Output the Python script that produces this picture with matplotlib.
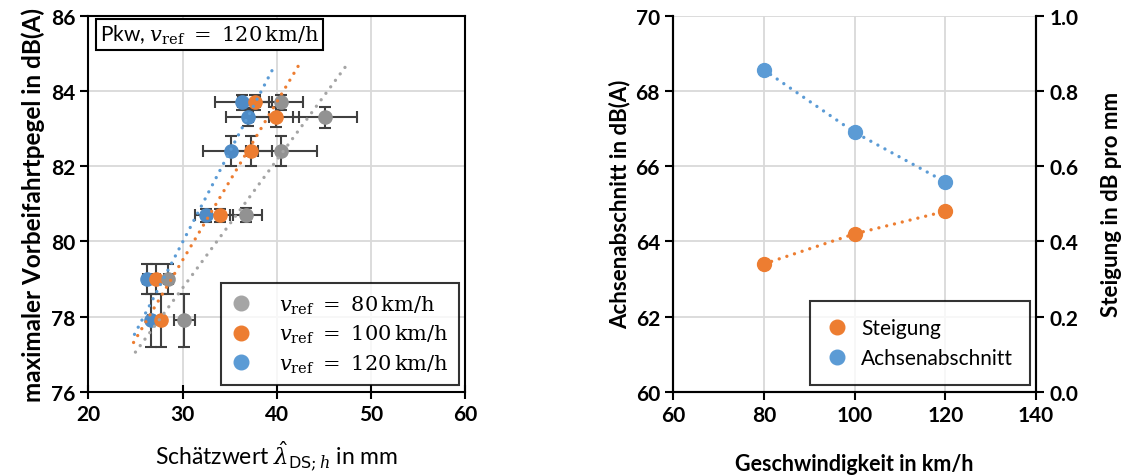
import matplotlib
matplotlib.use("Agg")
import matplotlib.pyplot as plt
from matplotlib.lines import Line2D
import numpy as np

plt.rcParams['font.family'] = ['Lato', 'DejaVu Sans']
plt.rcParams['mathtext.fontset'] = 'dejavuserif'

# ---------------- data: left chart ----------------
levels = [83.7, 83.3, 82.4, 80.7, 79.0, 77.9]          # max. pass-by level dB(A)
x80 = [40.5, 45.1, 40.5, 36.7, 28.5, 30.2]
x100 = [37.65, 39.9, 37.3, 34.0, 27.2, 27.75]
x120 = [36.3, 36.9, 35.1, 32.5, 26.2, 26.65]
xerr80 = [2.3, 3.4, 3.8, 1.7, 0.5, 1.15]
xerr100 = [1.8, 2.45, 2.2, 1.4, 0.4, 0.3]
xerr120 = [2.9, 2.3, 2.9, 1.2, 0.45, 0.3]
yerr80 = [0.2, 0.28, 0.4, 0.18, 0.4, 0.7]
yerr100 = [0.2, 0.27, 0.4, 0.17, 0.4, 0.7]
yerr120 = [0.2, 0.24, 0.4, 0.17, 0.4, 0.7]
trend_x_start = [25.0, 24.8, 24.9]
trend_x_end = [47.5, 42.5, 39.6]
legend_labels = [r'$v_{\mathrm{ref}}\ =\ 80\,\mathrm{km/h}$',
                 r'$v_{\mathrm{ref}}\ =\ 100\,\mathrm{km/h}$',
                 r'$v_{\mathrm{ref}}\ =\ 120\,\mathrm{km/h}$']

# ---------------- data: right chart ----------------
speeds = [80, 100, 120]
intercept = [68.56, 66.90, 65.58]   # Achsenabschnitt dB(A)
slope = [0.34, 0.42, 0.48]          # Steigung dB per mm

c_gray, c_orange, c_blue = '#A5A5A5', '#ED7D31', '#5B9BD5'
c_gray_d, c_blue_d = '#929292', '#4E8BC6'
err_c = '#404040'
grid_c = '#D9D9D9'

fig = plt.figure(figsize=(11.46, 4.77), dpi=100)
ax = fig.add_axes([0.0771, 0.1761, 0.3287, 0.789])

dot = (0, (0.01, 2.4))

series = [
    (x120, xerr120, yerr120, c_blue_d),
    (x100, xerr100, yerr100, c_orange),
    (x80, xerr80, yerr80, c_gray_d),
]
for xs, xe, ye, mc in series:
    ax.errorbar(xs, levels, xerr=xe, yerr=ye, fmt='o', ms=9.5, color=mc,
                mec=mc, ecolor=err_c, elinewidth=1.5, capsize=4, capthick=1.5,
                zorder=3)
for k, lc in zip(range(3), [c_gray, c_orange, c_blue]):
    tx = np.array([trend_x_start[k], trend_x_end[k]])
    ax.plot(tx, intercept[k] + slope[k] * tx, linestyle=dot, lw=2.4,
            color=lc, dash_capstyle='round', zorder=4)

ax.set_xlim(20, 60)
ax.set_ylim(76, 86)
ax.set_xticks([20, 30, 40, 50, 60])
ax.set_yticks([76, 78, 80, 82, 84, 86])
ax.grid(True, color=grid_c, lw=1.3, zorder=0)
ax.set_axisbelow(True)
for s in ax.spines.values():
    s.set_linewidth(1.5)
    s.set_color('black')
ax.tick_params(axis='both', labelsize=15, width=1.5, length=6)
ax.tick_params(axis='x', direction='inout', length=10)
for lab in ax.get_xticklabels() + ax.get_yticklabels():
    lab.set_fontweight('bold')
ax.set_ylabel('maximaler Vorbeifahrtpegel in dB(A)', fontsize=17.5,
              fontweight='bold', labelpad=4)
ax.set_xlabel(r'Schätzwert $\hat{\lambda}_{\mathsf{DS};h}$ in mm', fontsize=16.5,
              labelpad=11)

ax.text(0.03, 0.95, r'Pkw, $v_{\mathrm{ref}}\ =\ 120\,\mathrm{km/h}$',
        transform=ax.transAxes, fontsize=15, va='center', ha='left',
        bbox=dict(boxstyle='square,pad=0.18', fc='white', ec='black', lw=1.5),
        zorder=6)

handles = [Line2D([], [], ls='none', marker='o', ms=10.5, color=c)
           for c in [c_gray, c_orange, c_blue]]
leg = ax.legend(handles, legend_labels, loc='lower right', fontsize=15,
                frameon=True, fancybox=False, edgecolor='black',
                borderpad=0.5, labelspacing=0.35, handletextpad=1.3,
                handlelength=1.0, borderaxespad=0,
                bbox_to_anchor=(0.9835, 0.018))
leg.get_frame().set_linewidth(1.5)
leg.set_zorder(7)

# ---------------- right chart ----------------
ax2 = fig.add_axes([0.5875, 0.1767, 0.3165, 0.788])
ax3 = ax2.twinx()
ax2.plot(speeds, intercept, linestyle=dot, lw=2.4, color=c_blue,
         dash_capstyle='round', zorder=3)
ax2.plot(speeds, intercept, 'o', ms=10, color=c_blue, zorder=4)
ax3.plot(speeds, slope, linestyle=dot, lw=2.4, color=c_orange,
         dash_capstyle='round', zorder=3)
ax3.plot(speeds, slope, 'o', ms=10, color=c_orange, zorder=4)

ax2.set_xlim(60, 140)
ax2.set_ylim(60, 70)
ax3.set_ylim(0, 1)
ax2.set_xticks([60, 80, 100, 120, 140])
ax2.set_yticks([60, 62, 64, 66, 68, 70])
ax3.set_yticks([0, 0.2, 0.4, 0.6, 0.8, 1.0])
ax3.set_yticklabels(['0.0', '0.2', '0.4', '0.6', '0.8', '1.0'])
ax2.grid(True, color=grid_c, lw=1.3, zorder=0)
ax2.set_axisbelow(True)
for a in (ax2, ax3):
    a.spines['top'].set_visible(False)
    for s in ('left', 'right', 'bottom'):
        a.spines[s].set_linewidth(1.5)
    a.tick_params(axis='both', labelsize=15, width=1.5, length=6)
    for lab in a.get_xticklabels() + a.get_yticklabels():
        lab.set_fontweight('bold')
ax2.set_xlabel('Geschwindigkeit in km/h', fontsize=15.5, fontweight='bold',
               labelpad=20)
ax2.set_ylabel('Achsenabschnitt in dB(A)', fontsize=16, fontweight='bold',
               labelpad=4)
ax3.set_ylabel('Steigung in dB pro mm', fontsize=16, fontweight='bold',
               labelpad=16)

h2 = [Line2D([], [], ls='none', marker='o', ms=10.5, color=c)
      for c in [c_orange, c_blue]]
leg2 = ax3.legend(h2, ['Steigung', 'Achsenabschnitt'], loc='lower right',
                  fontsize=15, frameon=True, fancybox=False, edgecolor='black',
                  borderpad=0.8, labelspacing=0.5, handletextpad=0.65,
                  handlelength=1.0, borderaxespad=0,
                  bbox_to_anchor=(0.9835, 0.018))
leg2.get_frame().set_linewidth(1.5)

fig.savefig('out.png', dpi=100)
